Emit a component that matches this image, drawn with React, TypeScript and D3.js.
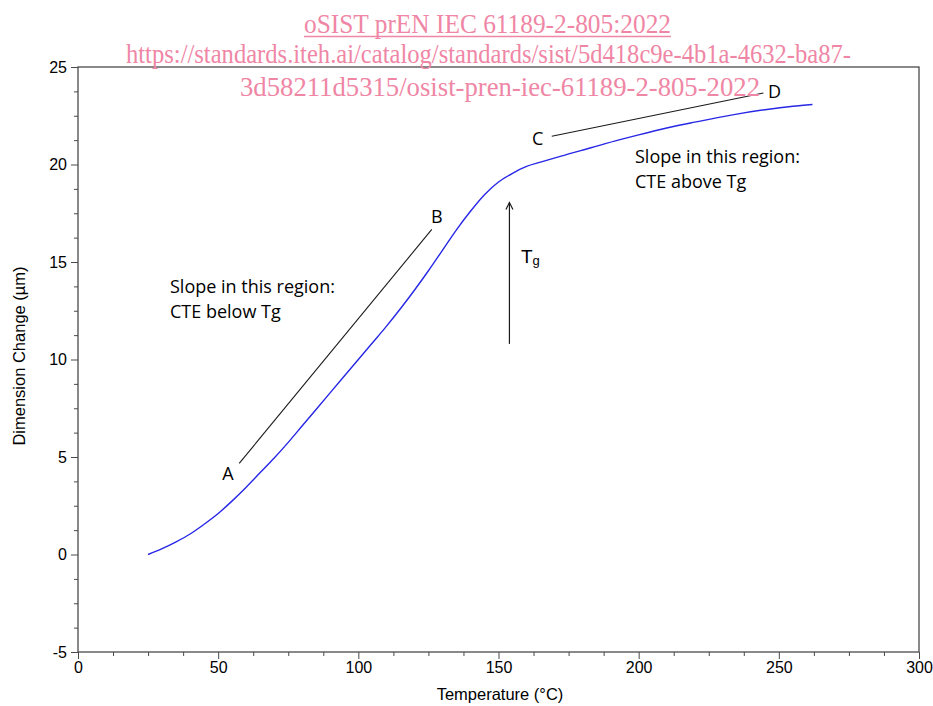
import React, { useEffect, useRef } from "react";
import * as d3 from "d3";

// curve: temperature (°C) vs dimension change (µm)
const temperature = [25, 30, 35, 40, 45, 50, 55, 60, 65, 70, 75, 80, 85, 90, 95, 100, 105, 110, 115, 120, 125, 130, 135, 140, 145, 150, 155, 160, 165, 172, 183, 193, 200, 210, 220, 234, 245, 255, 262];
const dimChange = [0, 0.3, 0.65, 1.05, 1.55, 2.1, 2.75, 3.45, 4.2, 4.95, 5.75, 6.6, 7.45, 8.3, 9.15, 10.0, 10.85, 11.7, 12.6, 13.55, 14.55, 15.6, 16.65, 17.6, 18.45, 19.1, 19.55, 19.9, 20.12, 20.42, 20.86, 21.26, 21.52, 21.87, 22.17, 22.56, 22.81, 22.99, 23.08];

const xTicks = [0, 50, 100, 150, 200, 250, 300];
const yTicks = [-5, 0, 5, 10, 15, 20, 25];

// slope guide lines, in data units
const lineAB = [[57.5, 4.67], [126.2, 16.67]];
const lineCD = [[169, 21.45], [244.5, 23.67]];
const letters = [
  { t: "A", x: 53.5, y: 3.8 },
  { t: "B", x: 128, y: 17.0 },
  { t: "C", x: 164, y: 21.0 },
  { t: "D", x: 248.5, y: 23.4 },
];
const tgArrow = [153.9, 10.8, 18.05];

const watermark = [
  "oSIST prEN IEC 61189-2-805:2022",
  "https://standards.iteh.ai/catalog/standards/sist/5d418c9e-4b1a-4632-ba87-",
  "3d58211d5315/osist-pren-iec-61189-2-805-2022",
];

export default function App() {
  const ref = useRef<SVGSVGElement>(null);

  useEffect(() => {
    const svg = d3.select(ref.current);
    svg.selectAll("*").remove();

    const left = 78, right = 919, top = 67, bottom = 652;
    const x = d3.scaleLinear().domain([0, 300]).range([left, right]);
    const y = d3.scaleLinear().domain([-5, 25]).range([bottom, top]);
    const axisColor = "#4a4a4a";
    const sans = "'Liberation Sans', Arial, sans-serif";
    const ann = "'Open Sans', 'Noto Sans', sans-serif";

    // minor ticks
    const xMinor = d3.range(0, 300.1, 12.5).filter((v) => v % 50 !== 0);
    const yMinor = d3.range(-5, 25.1, 1.25).filter((v) => v % 5 !== 0);
    svg.append("g")
      .attr("transform", `translate(0,${bottom})`)
      .call(d3.axisBottom(x).tickValues(xMinor).tickSize(4).tickFormat(() => ""))
      .call((g) => g.select(".domain").remove())
      .selectAll("line").attr("stroke", axisColor);
    svg.append("g")
      .attr("transform", `translate(${left},0)`)
      .call(d3.axisLeft(y).tickValues(yMinor).tickSize(4).tickFormat(() => ""))
      .call((g) => g.select(".domain").remove())
      .selectAll("line").attr("stroke", axisColor);

    // major ticks
    const gx = svg.append("g")
      .attr("transform", `translate(0,${bottom})`)
      .call(d3.axisBottom(x).tickValues(xTicks).tickSize(7).tickSizeOuter(0).tickPadding(3).tickFormat((d) => String(d)));
    gx.select(".domain").remove();
    gx.selectAll("line").attr("stroke", axisColor);
    gx.selectAll("text").attr("font-family", sans).attr("font-size", 16).attr("fill", "#000");

    const gy = svg.append("g")
      .attr("transform", `translate(${left},0)`)
      .call(d3.axisLeft(y).tickValues(yTicks).tickSize(7).tickSizeOuter(0).tickPadding(4).tickFormat((d) => String(d)));
    gy.select(".domain").remove();
    gy.selectAll("line").attr("stroke", axisColor);
    gy.selectAll("text").attr("font-family", sans).attr("font-size", 16).attr("fill", "#000");

    // frame
    svg.append("rect")
      .attr("x", left).attr("y", top)
      .attr("width", right - left).attr("height", bottom - top)
      .attr("fill", "none").attr("stroke", axisColor).attr("stroke-width", 1.3);

    // axis titles
    svg.append("text")
      .attr("x", 500).attr("y", 700)
      .attr("text-anchor", "middle")
      .attr("font-family", sans).attr("font-size", 16.5)
      .text("Temperature (°C)");
    svg.append("text")
      .attr("transform", `translate(25,356) rotate(-90)`)
      .attr("text-anchor", "middle")
      .attr("font-family", sans).attr("font-size", 16.5)
      .text("Dimension Change (µm)");

    // data curve
    const pts = temperature.map((t, i) => [t, dimChange[i]] as [number, number]);
    const line = d3.line<[number, number]>()
      .x((d) => x(d[0])).y((d) => y(d[1]))
      .curve(d3.curveMonotoneX);
    svg.append("path")
      .datum(pts)
      .attr("d", line)
      .attr("fill", "none")
      .attr("stroke", "#2727e6")
      .attr("stroke-width", 1.4);

    // slope guides
    const guide = d3.line<number[]>().x((d) => x(d[0])).y((d) => y(d[1]));
    [lineAB, lineCD].forEach((l) => {
      svg.append("path").attr("d", guide(l)).attr("stroke", "#1a1a1a").attr("stroke-width", 1.1).attr("fill", "none");
    });
    svg.selectAll(".letter")
      .data(letters)
      .join("text")
      .attr("class", "letter")
      .attr("x", (d) => x(d.x)).attr("y", (d) => y(d.y))
      .attr("text-anchor", "middle")
      .attr("font-family", ann).attr("font-size", 18)
      .text((d) => d.t);

    // region notes
    const notes = [
      { x: 170, y: 293, lines: ["Slope in this region:", "CTE below Tg"] },
      { x: 635, y: 163, lines: ["Slope in this region:", "CTE above Tg"] },
    ];
    notes.forEach((n) => {
      const t = svg.append("text").attr("font-family", ann).attr("font-size", 18);
      n.lines.forEach((s, i) => {
        t.append("tspan").attr("x", n.x).attr("y", n.y + i * 24.5).text(s);
      });
    });

    // Tg arrow
    const ax = x(tgArrow[0]);
    const y0 = y(tgArrow[1]), y1 = y(tgArrow[2]);
    svg.append("line").attr("x1", ax).attr("x2", ax).attr("y1", y0).attr("y2", y1)
      .attr("stroke", "#1a1a1a").attr("stroke-width", 1.2);
    svg.append("path")
      .attr("d", `M${ax - 3.5},${y1 + 7}L${ax},${y1}L${ax + 3.5},${y1 + 7}`)
      .attr("fill", "none").attr("stroke", "#1a1a1a").attr("stroke-width", 1.2);
    const tg = svg.append("text").attr("x", 521).attr("y", 263)
      .attr("font-family", sans).attr("font-size", 19);
    tg.append("tspan").text("T");
    tg.append("tspan").attr("font-size", 13).attr("dy", 2).text("g");

    // watermark
    const pink = "#ef86a5";
    const wm = [
      { x: 304, w: 367, y: 33 },
      { x: 126, w: 725, y: 63 },
      { x: 240, w: 520, y: 96 },
    ];
    watermark.forEach((s, i) => {
      svg.append("text")
        .attr("x", wm[i].x).attr("y", wm[i].y)
        .attr("textLength", wm[i].w).attr("lengthAdjust", "spacingAndGlyphs")
        .attr("font-family", "'Liberation Serif', 'Times New Roman', serif")
        .attr("font-size", 27)
        .attr("fill", pink)
        .text(s);
    });
    svg.append("line")
      .attr("x1", wm[0].x).attr("x2", wm[0].x + wm[0].w)
      .attr("y1", 36.5).attr("y2", 36.5)
      .attr("stroke", pink).attr("stroke-width", 1.3);
  }, []);

  return (
    <div style={{ position: "absolute", left: 0, top: 0 }}>
      <svg ref={ref} width={933} height={706} style={{ display: "block", background: "#fff" }} />
    </div>
  );
}
